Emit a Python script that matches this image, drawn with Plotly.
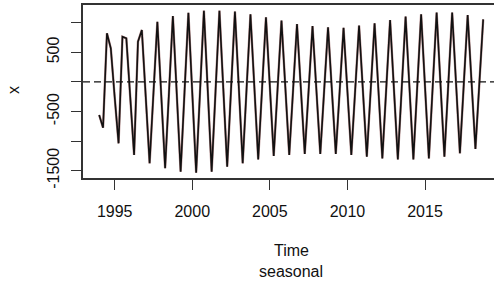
import plotly.graph_objects as go

# Quarterly seasonal component, 1994 Q1 .. 2018 Q4
start_year = 1994
frequency = 4
q1 = [-559, -260, -249, -249, -222, -201, -182, -156, -114, -94, -83, -80, -100,
      -120, -137, -148, -161, -156, -150, -131, -103, -75, -47, -18, -2]
q2 = [-773, -1037, -1234, -1375, -1459, -1516, -1533, -1516, -1432, -1375, -1308,
      -1251, -1234, -1218, -1218, -1218, -1234, -1263, -1291, -1308, -1308, -1291,
      -1263, -1206, -1133]
q3 = [821, 764, 679, -180, -173, -173, -165, -156, -122, -116, -108, -108, -128,
      -136, -148, -153, -142, -136, -122, -103, -83, -60, -46, -38, -38]
q4 = [567, 736, 877, 1015, 1113, 1169, 1203, 1203, 1187, 1142, 1091, 1035, 978,
      945, 922, 912, 950, 990, 1046, 1102, 1142, 1170, 1170, 1130, 1057]

values = []
for a, b, c, d in zip(q1, q2, q3, q4):
    values += [a, b, c, d]
times = [start_year + i / frequency for i in range(len(values))]

x_ticks = [1995, 2000, 2005, 2010, 2015]
y_ticks = [-1500, -1000, -500, 0, 500, 1000]
y_tick_text = ["-1500", "", "-500", "", "500", ""]

W, H = 494, 288
L, R, T, B = 83, 0, 5, 110
pw, ph = W - L - R, H - T - B

def px_x(p):
    return (p - L) / pw

def px_y(p):
    return (H - B - p) / ph

font = "Liberation Sans, Arial, sans-serif"

fig = go.Figure()
fig.add_trace(go.Scatter(x=times, y=values, mode="lines",
                         line=dict(color="#b89090", width=2.4), hoverinfo="skip"))
fig.add_trace(go.Scatter(x=times, y=values, mode="lines",
                         line=dict(color="#111111", width=1.6), hoverinfo="skip"))

fig.add_shape(type="line", xref="paper", yref="y", x0=0, x1=1, y0=0, y1=0,
              line=dict(color="#111111", width=1.3, dash="7px,4px"), layer="above")

fig.update_layout(
    width=W, height=H,
    margin=dict(l=L, r=R, t=T, b=B),
    paper_bgcolor="white", plot_bgcolor="white",
    showlegend=False,
    hovermode=False,
    font=dict(family=font, size=16, color="#111111"),
    xaxis=dict(range=[1992.957, 2019.447], tickvals=x_ticks, ticks="outside",
               ticklen=10, tickwidth=1.3, tickcolor="#333333",
               showline=True, linecolor="#333333", linewidth=1.5, mirror=True,
               showgrid=False, zeroline=False, ticklabelstandoff=8,
               tickfont=dict(size=16)),
    yaxis=dict(range=[-1623, 1299], tickvals=y_ticks, ticktext=y_tick_text,
               tickangle=-90, ticks="outside", ticklen=10, tickwidth=1.3,
               tickcolor="#333333", showline=True, linecolor="#333333",
               linewidth=1.5, mirror=False, showgrid=False, zeroline=False,
               ticklabelstandoff=6, tickfont=dict(size=16)),
    annotations=[
        dict(text="Time", xref="paper", yref="paper", x=px_x(291), y=px_y(250),
             showarrow=False, xanchor="center", yanchor="middle",
             font=dict(size=16)),
        dict(text="seasonal", xref="paper", yref="paper", x=px_x(291), y=px_y(271),
             showarrow=False, xanchor="center", yanchor="middle",
             font=dict(size=16)),
        dict(text="x", xref="paper", yref="paper", x=px_x(13), y=px_y(90),
             showarrow=False, xanchor="center", yanchor="middle", textangle=-90,
             font=dict(size=16)),
    ],
)

fig.write_html("out.html", config={"displayModeBar": False},
               post_script="document.body.style.margin='0';")
